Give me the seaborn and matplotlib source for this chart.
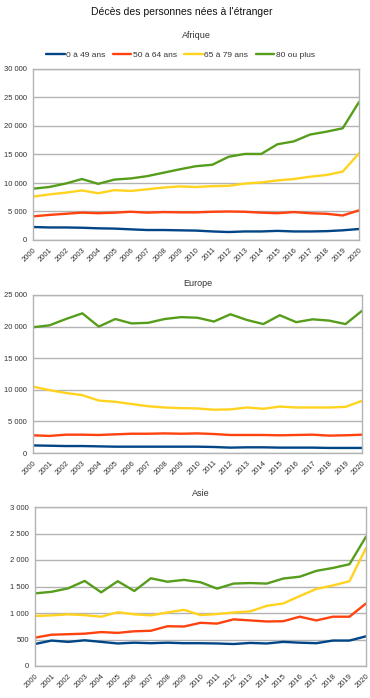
import numpy as np
import pandas as pd
import matplotlib
matplotlib.use("Agg")
import matplotlib.pyplot as plt
from matplotlib.ticker import FuncFormatter, MultipleLocator
import seaborn as sns

years = list(range(2000, 2021))
groups = ["0 à 49 ans", "50 à 64 ans", "65 à 79 ans", "80 ou plus"]
colors = ["#004586", "#ff420e", "#ffd320", "#579d1c"]

# Afrique
afr_0_49 = [2280, 2200, 2200, 2150, 2050, 2000, 1870, 1750, 1750, 1700, 1650,
            1500, 1400, 1500, 1500, 1600, 1500, 1500, 1550, 1700, 1930]
afr_50_64 = [4150, 4400, 4600, 4800, 4700, 4800, 4950, 4800, 4900, 4850, 4850,
             4950, 5000, 4950, 4800, 4700, 4900, 4700, 4600, 4300, 5200]
afr_65_79 = [7600, 8000, 8300, 8700, 8200, 8750, 8600, 8900, 9200, 9400, 9300,
             9450, 9500, 9900, 10100, 10450, 10700, 11100, 11400, 12000, 15200]
afr_80 = [9000, 9300, 9900, 10700, 9850, 10600, 10800, 11200, 11800, 12400, 12950,
          13200, 14600, 15100, 15100, 16800, 17300, 18500, 19000, 19600, 24200]

# Europe
eur_0_49 = [1200, 1150, 1100, 1100, 1050, 1000, 1000, 1000, 1000, 1000, 1000,
            950, 850, 900, 900, 850, 850, 850, 800, 800, 800]
eur_50_64 = [2800, 2700, 2900, 2900, 2850, 2950, 3050, 3050, 3100, 3050, 3100,
             3000, 2850, 2850, 2850, 2800, 2850, 2900, 2750, 2800, 2900]
eur_65_79 = [10500, 9950, 9500, 9150, 8300, 8100, 7750, 7400, 7200, 7100, 7050,
             6850, 6900, 7200, 7000, 7350, 7200, 7200, 7200, 7300, 8250]
eur_80 = [19900, 20200, 21200, 22100, 20000, 21200, 20500, 20600, 21200, 21500, 21400,
          20800, 21950, 21050, 20400, 21800, 20700, 21150, 20950, 20400, 22500]

# Asie
asi_0_49 = [415, 480, 455, 485, 455, 425, 440, 430, 440, 430, 430,
            425, 415, 435, 425, 455, 440, 430, 480, 480, 560]
asi_50_64 = [535, 590, 600, 610, 640, 625, 655, 665, 750, 745, 815,
             800, 880, 860, 840, 845, 930, 860, 930, 930, 1180]
asi_65_79 = [945, 955, 975, 960, 930, 1015, 975, 955, 1010, 1060, 960,
             980, 1010, 1030, 1135, 1180, 1320, 1455, 1520, 1600, 2225]
asi_80 = [1370, 1400, 1465, 1605, 1390, 1600, 1415, 1655, 1590, 1625, 1580,
          1460, 1555, 1565, 1555, 1650, 1685, 1795, 1850, 1920, 2440]

panels = [
    ("Afrique", [afr_0_49, afr_50_64, afr_65_79, afr_80], 30000, 5000),
    ("Europe", [eur_0_49, eur_50_64, eur_65_79, eur_80], 25000, 5000),
    ("Asie", [asi_0_49, asi_50_64, asi_65_79, asi_80], 3000, 500),
]

# plot area boxes in pixels: left, right, top, bottom, title y
boxes = [(33, 359, 69, 240, 36), (33, 362, 295, 453, 283), (35, 366, 507, 666, 493)]

sns.set_style("white")
plt.rcParams["font.family"] = ["Liberation Sans", "DejaVu Sans"]

W, H = 370, 698
fig = plt.figure(figsize=(W / 100, H / 100), dpi=100)
grey = "#b3b3b3"
txt = "#333333"


def thousands(v, pos):
    return f"{v:,.0f}".replace(",", " ")


for (name, series, ymax, step), (l, r, t, b, ty) in zip(panels, boxes):
    ax = fig.add_axes([l / W, (H - b) / H, (r - l) / W, (b - t) / H])
    df = pd.DataFrame({
        "annee": years * 4,
        "deces": sum(series, []),
        "age": sum([[g] * len(years) for g in groups], []),
    })
    sns.lineplot(data=df, x="annee", y="deces", hue="age", palette=colors,
                 hue_order=groups, linewidth=1.7, ax=ax, legend=False)
    ax.set_xlim(2000, 2020)
    ax.set_ylim(0, ymax)
    ax.yaxis.set_major_locator(MultipleLocator(step))
    ax.yaxis.set_major_formatter(FuncFormatter(thousands))
    ax.set_xticks(years)
    ax.set_xticklabels([str(y) for y in years], rotation=45, ha="right",
                       rotation_mode="anchor")
    ax.grid(axis="y", color=grey, linewidth=1)
    ax.set_axisbelow(True)
    for s in ax.spines.values():
        s.set_color(grey)
        s.set_linewidth(1)
    ax.tick_params(axis="both", length=3, width=0.8, color=grey,
                   labelsize=5.5, labelcolor=txt, pad=1.5)
    ax.set_xlabel("")
    ax.set_ylabel("")
    fig.text(((l + r) / 2) / W, 1 - ty / H, name, ha="center", va="center",
             fontsize=6.5, color=txt)

fig.text(0.49, 1 - 12 / H, "Décès des personnes nées à l'étranger",
         ha="center", va="center", fontsize=7.5, color="#111111")

handles = [plt.Line2D([], [], color=c, linewidth=1.7) for c in colors]
fig.legend(handles, groups, loc="center", bbox_to_anchor=(0.488, 1 - 55 / H),
           ncol=4, frameon=False, fontsize=6, handlelength=2.2,
           handletextpad=0.2, columnspacing=0.9, labelcolor=txt)

fig.savefig("out.png", dpi=100)
